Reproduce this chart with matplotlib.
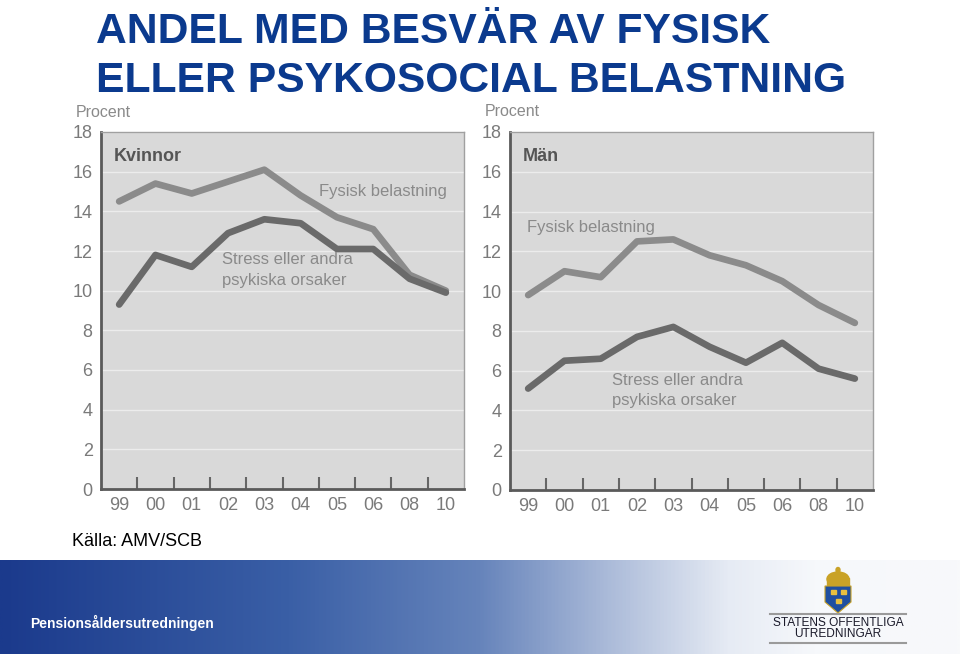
import numpy as np
import matplotlib
matplotlib.use("Agg")
import matplotlib.pyplot as plt
from matplotlib.colors import LinearSegmentedColormap
from matplotlib.patches import Polygon, Ellipse, Rectangle

# data
years = ["99", "00", "01", "02", "03", "04", "05", "06", "08", "10"]
women_physical = [14.5, 15.4, 14.9, 15.5, 16.1, 14.8, 13.7, 13.1, 10.8, 10.0]
women_stress = [9.3, 11.8, 11.2, 12.9, 13.6, 13.4, 12.1, 12.1, 10.6, 9.9]
men_physical = [9.8, 11.0, 10.7, 12.5, 12.6, 11.8, 11.3, 10.5, 9.3, 8.4]
men_stress = [5.1, 6.5, 6.6, 7.7, 8.2, 7.2, 6.4, 7.4, 6.1, 5.6]
y_ticks = [0, 2, 4, 6, 8, 10, 12, 14, 16, 18]

W, H = 960, 654
TITLE_BLUE = "#0b3a8e"
PLOT_BG = "#d9d9d9"
GRID = "#ececec"
PHYS_COL = "#8b8b8b"
STRESS_COL = "#6a6a6a"
TICK_COL = "#7a7a7a"
LBL_COL = "#8a8a8a"
SANS = ['Liberation Sans', 'DejaVu Sans']

plt.rcParams['font.family'] = SANS

fig = plt.figure(figsize=(W / 100, H / 100), dpi=100)
fig.patch.set_facecolor("white")


def px_axes(left, top, right, bottom, **kw):
    return fig.add_axes([left / W, 1 - bottom / H, (right - left) / W, (bottom - top) / H], **kw)


def panel(ax, phys, stress, name, phys_pos, stress_pos):
    x = np.arange(len(years))
    ax.set_facecolor(PLOT_BG)
    ax.set_xlim(-0.5, len(years) - 0.5)
    ax.set_ylim(0, 18)
    for v in y_ticks[1:]:
        ax.axhline(v, color=GRID, lw=1.0, zorder=1)
    ax.plot(x, phys, color=PHYS_COL, lw=4.8, solid_capstyle='round',
            solid_joinstyle='round', zorder=3)
    ax.plot(x, stress, color=STRESS_COL, lw=4.8, solid_capstyle='round',
            solid_joinstyle='round', zorder=3)

    ax.set_yticks(y_ticks)
    ax.set_xticks(x)
    ax.set_xticklabels(years)
    ax.set_xticks(np.arange(0.5, len(years) - 1), minor=True)
    ax.tick_params(axis='both', which='major', length=0, labelsize=13,
                   labelcolor=TICK_COL, pad=6)
    ax.tick_params(axis='x', which='minor', direction='in', length=9,
                   width=1.5, color="#666666")
    for side in ("left", "bottom"):
        ax.spines[side].set_color("#5a5a5a")
        ax.spines[side].set_linewidth(2)
    for side in ("top", "right"):
        ax.spines[side].set_color("#a0a0a0")
        ax.spines[side].set_linewidth(1)

    ax.text(0.035, 0.955, name, transform=ax.transAxes, fontsize=13,
            fontweight='bold', color="#555555", va='top', ha='left')
    ax.text(-0.07, 1.035, "Procent", transform=ax.transAxes, fontsize=11.5,
            color=LBL_COL, va='bottom', ha='left')
    ax.text(*phys_pos, "Fysisk belastning", fontsize=12, color=LBL_COL,
            va='center', ha='left', zorder=4)
    ax.text(*stress_pos, "Stress eller andra\npsykiska orsaker", fontsize=12,
            color=LBL_COL, va='center', ha='left', linespacing=1.45, zorder=4)


ax1 = px_axes(101, 132, 464, 489)
panel(ax1, women_physical, women_stress, "Kvinnor", (5.5, 15.0), (2.83, 11.05))
ax2 = px_axes(510, 132, 873, 490)
panel(ax2, men_physical, men_stress, "Män", (-0.03, 13.2), (2.31, 5.0))

# title
fig.text(96 / W, 1 - 43 / H, "ANDEL MED BESVÄR AV FYSISK", fontsize=30.7,
         fontweight='bold', color=TITLE_BLUE, va='baseline', ha='left')
fig.text(96 / W, 1 - 92 / H, "ELLER PSYKOSOCIAL BELASTNING", fontsize=30.7,
         fontweight='bold', color=TITLE_BLUE, va='baseline', ha='left')

fig.text(72 / W, 1 - 541 / H, "Källa: AMV/SCB", fontsize=13, color="black",
         va='center', ha='left')

# bottom gradient band
band = px_axes(0, 560, 960, 654)
band.set_axis_off()
cmap = LinearSegmentedColormap.from_list("band", [
    (0.0, "#1b3a8c"), (0.3, "#3a5fa6"), (0.5, "#6684bb"),
    (0.63, "#a9b9d8"), (0.76, "#e6ebf4"), (0.85, "#f6f8fb"), (1.0, "#f8f9fb")])
band.imshow(np.linspace(0, 1, 512)[None, :], aspect='auto', cmap=cmap,
            extent=[0, 1, 0, 1])
band.set_xlim(0, 1)
band.set_ylim(0, 1)
fig.text(30 / W, 1 - 623 / H, "Pensionsåldersutredningen", fontsize=10,
         fontweight='bold', color="white", va='center', ha='left')

# logo
logo = px_axes(760, 560, 920, 654)
logo.set_axis_off()
logo.set_xlim(760, 920)
logo.set_ylim(654, 560)
gold = "#c9a227"
logo.add_patch(Ellipse((838, 579), 22, 14, color=gold, zorder=2))
logo.add_patch(Rectangle((827, 578), 22, 7, color=gold, zorder=2))
logo.add_patch(Ellipse((838, 570), 4, 5, color=gold, zorder=2))
logo.add_patch(Polygon([(825, 586), (851, 586), (851, 602), (838, 613), (825, 602)],
                       closed=True, facecolor="#1f4fa0", edgecolor=gold, lw=0.8, zorder=2))
for cx, cy in [(833, 592), (843, 592), (838, 601)]:
    logo.add_patch(Rectangle((cx - 2.5, cy - 2), 5, 4, color="#e8c040", zorder=3))
logo.plot([770, 906], [614, 614], color="#9a9a9a", lw=1.5)
logo.plot([770, 906], [643, 643], color="#9a9a9a", lw=1.5)
logo.text(838, 623, "STATENS OFFENTLIGA", ha='center', va='center', fontsize=8.6,
          color="#1a1a2a")
logo.text(838, 634, "UTREDNINGAR", ha='center', va='center', fontsize=8.6,
          color="#1a1a2a")

fig.savefig("out.png", dpi=100, facecolor="white")
